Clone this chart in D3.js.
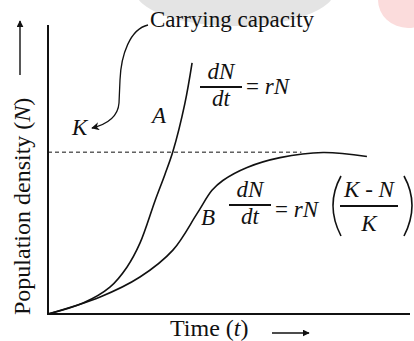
<!DOCTYPE html>
<html>
<head>
<meta charset="utf-8">
<script src="https://cdn.jsdelivr.net/npm/d3@7"></script>
<style>
  body { margin: 0; background: #fff; }
  text { fill: #111; }
</style>
</head>
<body>
<svg id="chart" width="414" height="341"></svg>
<script>
// exponential growth (A) and logistic growth (B)
const timeA = [0, 0.97, 1.71, 2.18, 2.54, 2.96, 3.23, 3.45, 3.78, 3.98]
const popA  = [0, 3.8, 9.3, 16.2, 24.5, 39.3, 48.3, 56.2, 72.8, 86.9]
const timeB = [0, 1.44, 2.54, 3.45, 4.12, 4.53, 4.83, 5.50, 6.41, 7.60, 8.81]
const popB  = [0, 5.9, 12.8, 22.1, 34.8, 42.8, 46.2, 50.7, 54.1, 55.9, 54.5]
const carryingK = 56
const kLineEnd = 7.0

const svg = d3.select("#chart")
const x = d3.scaleLinear().domain([0, 10]).range([48, 410])
const y = d3.scaleLinear().domain([0, 100]).range([314, 25])
const serif = "Liberation Serif, Times New Roman, Times, Tinos, Nimbus Roman, Noto Serif, DejaVu Serif, FreeSerif, serif"

// faint watermark blobs at the top
svg.append("ellipse").attr("cx", 235).attr("cy", -10).attr("rx", 100).attr("ry", 36)
  .attr("fill", "#e4e4e4")
svg.append("ellipse").attr("cx", 408).attr("cy", 0).attr("rx", 30).attr("ry", 28)
  .attr("fill", "#fbdcdc")

const defs = svg.append("defs")
defs.append("marker")
  .attr("id", "head")
  .attr("viewBox", "0 -5 10 10")
  .attr("refX", 9).attr("refY", 0)
  .attr("markerWidth", 7).attr("markerHeight", 7)
  .attr("markerUnits", "userSpaceOnUse")
  .attr("orient", "auto")
  .append("path").attr("d", "M0,-5L10,0L0,5Z").attr("fill", "#111")
defs.append("marker")
  .attr("id", "head2")
  .attr("viewBox", "0 -5 10 10")
  .attr("refX", 9).attr("refY", 0)
  .attr("markerWidth", 12).attr("markerHeight", 8)
  .attr("markerUnits", "userSpaceOnUse")
  .attr("orient", "auto")
  .append("path").attr("d", "M0,-5L10,0L0,5L3,0Z").attr("fill", "#111")

// axes (plain lines, no ticks)
svg.append("line")
  .attr("x1", x(0)).attr("x2", x(0)).attr("y1", y(0) + 1).attr("y2", y(100))
  .attr("stroke", "#111").attr("stroke-width", 2)
svg.append("line")
  .attr("x1", x(0) - 1).attr("x2", x(10)).attr("y1", y(0)).attr("y2", y(0))
  .attr("stroke", "#111").attr("stroke-width", 2.2)

// carrying capacity
svg.append("line")
  .attr("x1", x(0)).attr("x2", x(kLineEnd))
  .attr("y1", y(carryingK)).attr("y2", y(carryingK))
  .attr("stroke", "#111").attr("stroke-width", 1).attr("stroke-dasharray", "4,3")

const line = d3.line().x(d => x(d[0])).y(d => y(d[1])).curve(d3.curveCatmullRom.alpha(0.5))

svg.append("path")
  .datum(d3.zip(timeA, popA))
  .attr("d", line)
  .attr("fill", "none").attr("stroke", "#111").attr("stroke-width", 1.6)

svg.append("path")
  .datum(d3.zip(timeB, popB))
  .attr("d", line)
  .attr("fill", "none").attr("stroke", "#111").attr("stroke-width", 1.6)

// curved pointer from the label to K
svg.append("path")
  .attr("d", "M148,25 C130,29 121,55 120,80 L119,103 C118,117 108,124 92,128")
  .attr("fill", "none").attr("stroke", "#111").attr("stroke-width", 1.3)
  .attr("marker-end", "url(#head2)")

function label(xp, yp, str, italic, size) {
  return svg.append("text").attr("x", xp).attr("y", yp)
    .style("font-family", serif).attr("font-size", size || 23)
    .attr("font-style", italic ? "italic" : "normal").text(str)
}
label(150, 27, "Carrying capacity", false)
label(72, 135, "K", true)
label(152, 123, "A", true)
label(201, 225, "B", true)

// fraction helper
function frac(cx, yBar, w, top, bottom, fs) {
  label(cx, yBar - 8, top, true, fs).attr("text-anchor", "middle")
  svg.append("line").attr("x1", cx - w / 2).attr("x2", cx + w / 2)
    .attr("y1", yBar).attr("y2", yBar).attr("stroke", "#111").attr("stroke-width", 1.8)
  label(cx, yBar + 19, bottom, true, fs).attr("text-anchor", "middle")
}

// equation A: dN/dt = rN
frac(221, 87, 42, "dN", "dt", 23)
const eq1 = label(246, 94, "", false)
eq1.append("tspan").text("= ")
eq1.append("tspan").attr("font-style", "italic").text("rN")

// equation B: dN/dt = rN((K - N)/K)
frac(250, 205, 42, "dN", "dt", 23)
const eq2 = label(275, 217, "", false)
eq2.append("tspan").text("= ")
eq2.append("tspan").attr("font-style", "italic").text("rN")
svg.append("path").attr("d", "M341,176 Q325,205 341,236")
  .attr("fill", "none").attr("stroke", "#111").attr("stroke-width", 1.6)
svg.append("path").attr("d", "M404,176 Q420,205 404,236")
  .attr("fill", "none").attr("stroke", "#111").attr("stroke-width", 1.6)
const num = label(369, 197, "", false).attr("text-anchor", "middle")
num.append("tspan").attr("font-style", "italic").text("K")
num.append("tspan").text(" - ")
num.append("tspan").attr("font-style", "italic").text("N")
svg.append("line").attr("x1", 340).attr("x2", 398).attr("y1", 206).attr("y2", 206)
  .attr("stroke", "#111").attr("stroke-width", 1.8)
label(369, 231, "K", true).attr("text-anchor", "middle")

// axis titles with arrows
const xt = label(170, 336, "", false, 24)
xt.append("tspan").text("Time (")
xt.append("tspan").attr("font-style", "italic").text("t")
xt.append("tspan").text(")")
svg.append("line").attr("x1", 272).attr("x2", 309).attr("y1", 333).attr("y2", 333)
  .attr("stroke", "#111").attr("stroke-width", 1.4).attr("marker-end", "url(#head)")

const yt = label(0, 0, "", false, 24).attr("transform", "translate(30,315) rotate(-90)")
yt.append("tspan").text("Population density (")
yt.append("tspan").attr("font-style", "italic").text("N")
yt.append("tspan").text(")")
svg.append("line").attr("x1", 20).attr("x2", 20).attr("y1", 75).attr("y2", 21)
  .attr("stroke", "#111").attr("stroke-width", 1.4).attr("marker-end", "url(#head)")
</script>
</body>
</html>
